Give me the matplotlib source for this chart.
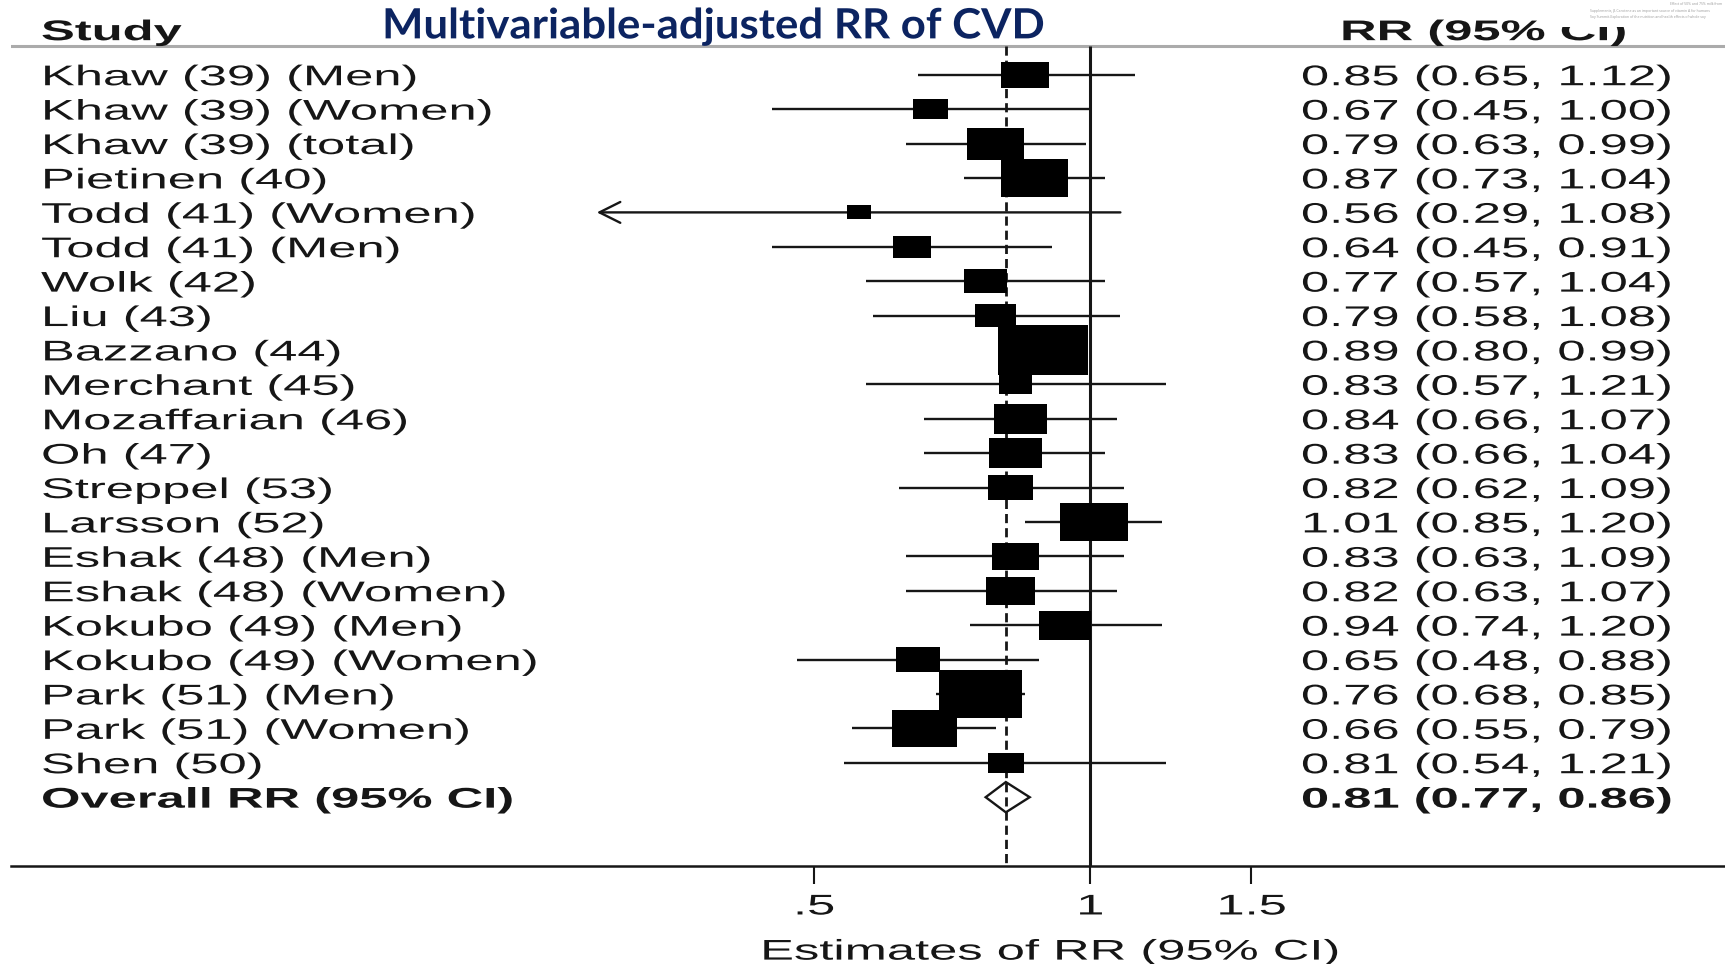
import numpy as np
import matplotlib
matplotlib.use("Agg")
import matplotlib.pyplot as plt
from matplotlib.patheffects import AbstractPathEffect
from matplotlib.transforms import Affine2D
from matplotlib.ticker import NullLocator
from matplotlib.patches import Rectangle

# ===== DATOS =====
studies = [
    "Khaw (39) (Men)", "Khaw (39) (Women)", "Khaw (39) (total)", "Pietinen (40)",
    "Todd (41) (Women)", "Todd (41) (Men)", "Wolk (42)", "Liu (43)", "Bazzano (44)",
    "Merchant (45)", "Mozaffarian (46)", "Oh (47)", "Streppel (53)", "Larsson (52)",
    "Eshak (48) (Men)", "Eshak (48) (Women)", "Kokubo (49) (Men)",
    "Kokubo (49) (Women)", "Park (51) (Men)", "Park (51) (Women)", "Shen (50)",
]
rr = [0.85, 0.67, 0.79, 0.87, 0.56, 0.64, 0.77, 0.79, 0.89, 0.83, 0.84,
      0.83, 0.82, 1.01, 0.83, 0.82, 0.94, 0.65, 0.76, 0.66, 0.81]
ci_low = [0.65, 0.45, 0.63, 0.73, 0.29, 0.45, 0.57, 0.58, 0.80, 0.57, 0.66,
          0.66, 0.62, 0.85, 0.63, 0.63, 0.74, 0.48, 0.68, 0.55, 0.54]
ci_high = [1.12, 1.00, 0.99, 1.04, 1.08, 0.91, 1.04, 1.08, 0.99, 1.21, 1.07,
           1.04, 1.09, 1.20, 1.09, 1.07, 1.20, 0.88, 0.85, 0.79, 1.21]
# peso (%) de cada estudio -> area de la caja
weights = [3.7, 2.0, 5.4, 7.4, 1.0, 2.5, 3.1, 2.8, 13.4, 1.8, 4.7,
           4.8, 3.4, 7.7, 3.8, 4.0, 4.5, 3.2, 11.7, 7.0, 2.2]

overall_label = "Overall RR (95% CI)"
overall_rr, overall_low, overall_high = 0.81, 0.77, 0.86

x_ticks = [0.5, 1, 1.5]
x_tick_labels = [".5", "1", "1.5"]

title = "Multivariable-adjusted RR of CVD"
side_notes = [
    "Effect of 50% and 75% milk from",
    "Supplements, \u03b2-Carotene as an important source of vitamin A for humans",
    "Soy Summit-Exploration of the nutrition and health effects of whole soy",
]


# ===== TEXTO ESTIRADO =====
class Stretch(AbstractPathEffect):
    def __init__(self, sx, anchor="left"):
        super().__init__()
        self.sx = sx
        self.anchor = anchor

    def draw_path(self, renderer, gc, tpath, affine, rgbFace=None):
        cx = 0.0
        if self.anchor == "center" and len(tpath.vertices):
            v = tpath.vertices[:, 0]
            cx = (v.min() + v.max()) / 2
        t = Affine2D().translate(-cx, 0).scale(self.sx, 1).translate(cx, 0)
        renderer.draw_path(gc, tpath, t + affine, rgbFace)


SX = 1.78
FS = 20.5
INK = "#161616"
TXT_DY = 0.1  # bajada del texto respecto al centro de la fila
plt.rcParams["font.family"] = "Liberation Sans"

W, H = 1725, 964
fig = plt.figure(figsize=(W / 100, H / 100), dpi=100)
ax = fig.add_axes([11 / W, 98 / H, 1 - 11 / W, 866 / H])
ax.set_xscale("log")
ax.set_xlim(0.0666, 4.93)
ax.set_ylim(23.0, -2.174)

rows = np.arange(len(studies))
overall_row = len(studies)
header_row = -1.31
rule_row = -0.837

# lineas de referencia
ax.axhline(rule_row, color="#ababab", lw=2.2, zorder=1)
ax.vlines(1, rule_row, 23.0, color=INK, lw=2.2, zorder=1)
ax.vlines(overall_rr, rule_row, 23.0, color=INK, lw=2.0,
          linestyles=(0, (3.3, 1.8)), zorder=1)

# intervalos de confianza
for i in rows:
    if ci_low[i] < 0.3:
        ax.annotate("", xy=(ci_low[i], i), xytext=(ci_high[i], i),
                    arrowprops=dict(arrowstyle="->,head_length=0.5,head_width=0.25",
                                    lw=1.7, color=INK, mutation_scale=30,
                                    shrinkA=0, shrinkB=0), zorder=2)
    else:
        ax.hlines(i, ci_low[i], ci_high[i], color=INK, lw=1.7, zorder=2)

# cajas proporcionales al peso
aspect = 1.78
box = [(-aspect / 2, -0.5), (aspect / 2, -0.5), (aspect / 2, 0.5),
       (-aspect / 2, 0.5), (-aspect / 2, -0.5)]
ax.scatter(rr, rows, s=np.array(weights) * 312, marker=box,
           color="black", linewidths=0, zorder=3)

# diamante del efecto global
ax.fill([overall_low, overall_rr, overall_high, overall_rr],
        [overall_row, overall_row - 0.44, overall_row, overall_row + 0.44],
        facecolor="none", edgecolor=INK, lw=1.7, zorder=3)

# textos de las columnas
tr = ax.get_yaxis_transform()
left_x, right_x = 0.0175, 0.7526
stretch_left = [Stretch(SX)]
for i, name in enumerate(studies):
    ax.text(left_x, i + TXT_DY, name, transform=tr, fontsize=FS, color=INK,
            va="center", ha="left", path_effects=stretch_left)
    ax.text(right_x, i + TXT_DY,
            f"{rr[i]:.2f} ({ci_low[i]:.2f}, {ci_high[i]:.2f})",
            transform=tr, fontsize=FS, color=INK, va="center", ha="left",
            path_effects=stretch_left)
ax.text(left_x, overall_row + TXT_DY, overall_label, transform=tr,
        fontsize=FS, color=INK, weight="bold", va="center",
        path_effects=stretch_left)
ax.text(right_x, overall_row + TXT_DY,
        f"{overall_rr:.2f} ({overall_low:.2f}, {overall_high:.2f})",
        transform=tr, fontsize=FS, color=INK, weight="bold", va="center",
        path_effects=stretch_left)

ax.text(left_x, header_row + TXT_DY, "Study", transform=tr, fontsize=FS,
        color=INK, weight="bold", va="center", path_effects=stretch_left)
ax.text(0.7754, header_row + TXT_DY, "RR (95% CI)", transform=tr,
        fontsize=FS, color=INK, weight="bold", va="center",
        path_effects=stretch_left)

ax.text(0.2165, -1.40, title, transform=tr, fontsize=30, color="#0c2461",
        family="Lato", weight="bold", va="center",
        path_effects=[Stretch(1.05)])

# eje x
for s in ["top", "left", "right"]:
    ax.spines[s].set_visible(False)
ax.spines["bottom"].set_color(INK)
ax.spines["bottom"].set_linewidth(1.8)
ax.set_yticks([])
ax.set_xticks(x_ticks)
ax.set_xticklabels(x_tick_labels)
ax.xaxis.set_minor_locator(NullLocator())
ax.tick_params(axis="x", length=13, width=1.5, color=INK, pad=7.5,
               labelsize=FS, labelcolor=INK)
for lab in ax.get_xticklabels():
    lab.set_path_effects([Stretch(SX, "center")])

ax.set_xlabel("Estimates of RR (95% CI)", fontsize=FS, color=INK)
ax.xaxis.set_label_coords(0.6059, -0.1)
ax.xaxis.label.set_va("center")
ax.xaxis.label.set_path_effects([Stretch(SX, "center")])

# recuadro de notas arriba a la derecha
fig.patches.append(Rectangle((1560 / W, 1 - 27 / H), 165 / W, 27 / H,
                             transform=fig.transFigure, facecolor="white",
                             edgecolor="none", zorder=5))
fig.text(1722 / W, 1 - 4 / H, side_notes[0], fontsize=2.5, color="#9a9a9a",
         ha="right", va="center", family="Open Sans", zorder=6)
for k, note in enumerate(side_notes[1:]):
    fig.text(1590 / W, 1 - (11 + 6 * k) / H, note, fontsize=2.5,
             color="#9a9a9a", ha="left", va="center", family="Open Sans",
             zorder=6)

fig.savefig("out.png", dpi=100, facecolor="white")
